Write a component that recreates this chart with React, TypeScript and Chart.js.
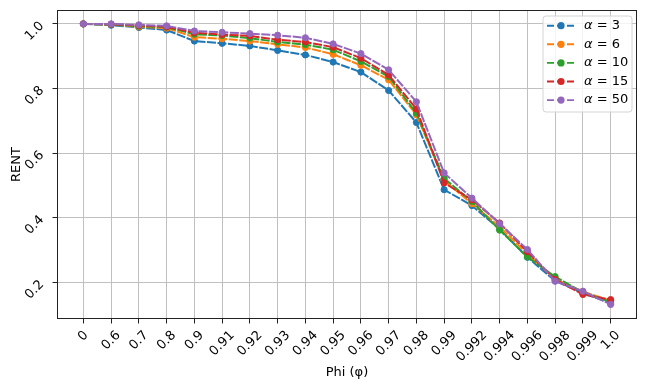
import React, { useEffect, useRef } from 'react';
import { Chart, registerables } from 'chart.js';

Chart.register(...registerables);

const phiLabels = ['0', '0.6', '0.7', '0.8', '0.9', '0.91', '0.92', '0.93', '0.94', '0.95', '0.96', '0.97', '0.98', '0.99', '0.992', '0.994', '0.996', '0.998', '0.999', '1.0'];
const alphaNames = ['3', '6', '10', '15', '50'];
const seriesColors = ['#1f77b4', '#ff7f0e', '#2ca02c', '#d62728', '#9467bd'];

const rentAlpha3 = [1.0, 0.996, 0.989, 0.981, 0.947, 0.940, 0.932, 0.918, 0.904, 0.882, 0.851, 0.794, 0.695, 0.487, 0.438, 0.365, 0.278, 0.205, 0.167, 0.136];
const rentAlpha6 = [1.0, 0.998, 0.991, 0.987, 0.959, 0.954, 0.947, 0.937, 0.927, 0.906, 0.872, 0.827, 0.719, 0.516, 0.444, 0.372, 0.288, 0.210, 0.172, 0.144];
const rentAlpha10 = [1.0, 0.998, 0.993, 0.990, 0.968, 0.964, 0.956, 0.944, 0.936, 0.920, 0.884, 0.837, 0.724, 0.522, 0.451, 0.362, 0.279, 0.218, 0.169, 0.140];
const rentAlpha15 = [1.0, 0.999, 0.995, 0.991, 0.973, 0.967, 0.963, 0.951, 0.944, 0.928, 0.894, 0.842, 0.737, 0.508, 0.456, 0.384, 0.295, 0.209, 0.163, 0.147];
const rentAlpha50 = [1.0, 1.0, 0.997, 0.994, 0.978, 0.974, 0.970, 0.965, 0.957, 0.938, 0.908, 0.858, 0.759, 0.539, 0.461, 0.382, 0.302, 0.204, 0.173, 0.132];

const allSeries = [rentAlpha3, rentAlpha6, rentAlpha10, rentAlpha15, rentAlpha50];
const yTicks = [0.2, 0.4, 0.6, 0.8, 1.0];

const xTitle = 'Phi (φ)';
const yTitle = 'RENT';
const FONT = "'DejaVu Sans', sans-serif";
const FS = 13;

const overlayPlugin = {
  id: 'mplOverlay',
  afterDraw(chart: any) {
    const ctx = chart.ctx;
    const area = chart.chartArea;
    const xs = chart.scales.x;
    const ys = chart.scales.y;
    ctx.save();
    // spines
    ctx.strokeStyle = '#222';
    ctx.lineWidth = 1;
    ctx.strokeRect(Math.round(area.left) + 0.5, Math.round(area.top) + 0.5, Math.round(area.right - area.left) - 1, Math.round(area.bottom - area.top) - 1);

    ctx.fillStyle = '#000';
    ctx.font = `${FS}px ${FONT}`;

    // x tick labels, rotated 45 deg CCW, rotated box centred on tick
    const h = FS * 1.164;
    const top = area.bottom + 9;
    phiLabels.forEach((lab, i) => {
      const px = xs.getPixelForValue(i);
      const w = ctx.measureText(lab).width;
      const H = (w + h) * Math.SQRT1_2;
      ctx.save();
      ctx.translate(px, top + H / 2);
      ctx.rotate(-Math.PI / 4);
      ctx.textAlign = 'center';
      ctx.textBaseline = 'middle';
      ctx.fillText(lab, 0, 0);
      ctx.restore();
    });

    // y tick labels, rotated 45 deg CCW, right end at tick
    yTicks.forEach((v) => {
      const py = ys.getPixelForValue(v);
      ctx.save();
      ctx.translate(area.left - 15, py);
      ctx.rotate(-Math.PI / 4);
      ctx.textAlign = 'right';
      ctx.textBaseline = 'middle';
      ctx.fillText(v.toFixed(1), 0, 0);
      ctx.restore();
    });

    // axis titles
    ctx.textAlign = 'center';
    ctx.textBaseline = 'alphabetic';
    ctx.fillText(xTitle, (area.left + area.right) / 2, 376);
    ctx.save();
    ctx.translate(19.5, (area.top + area.bottom) / 2);
    ctx.rotate(-Math.PI / 2);
    ctx.fillText(yTitle, 0, 0);
    ctx.restore();

    // legend
    const lx = 543, ly = 16, lw = 89, lh = 96, r = 3;
    ctx.beginPath();
    ctx.moveTo(lx + r, ly);
    ctx.lineTo(lx + lw - r, ly);
    ctx.quadraticCurveTo(lx + lw, ly, lx + lw, ly + r);
    ctx.lineTo(lx + lw, ly + lh - r);
    ctx.quadraticCurveTo(lx + lw, ly + lh, lx + lw - r, ly + lh);
    ctx.lineTo(lx + r, ly + lh);
    ctx.quadraticCurveTo(lx, ly + lh, lx, ly + lh - r);
    ctx.lineTo(lx, ly + r);
    ctx.quadraticCurveTo(lx, ly, lx + r, ly);
    ctx.closePath();
    ctx.fillStyle = 'rgba(255,255,255,0.8)';
    ctx.fill();
    ctx.strokeStyle = '#d4d4d4';
    ctx.lineWidth = 1;
    ctx.stroke();

    alphaNames.forEach((name, i) => {
      const cy = 25.7 + i * 18.6;
      const col = seriesColors[i];
      ctx.strokeStyle = col;
      ctx.lineWidth = 1.9;
      ctx.setLineDash([7, 3]);
      ctx.beginPath();
      ctx.moveTo(547, cy);
      ctx.lineTo(575, cy);
      ctx.stroke();
      ctx.setLineDash([]);
      ctx.fillStyle = col;
      ctx.beginPath();
      ctx.arc(561, cy, 3.6, 0, Math.PI * 2);
      ctx.fill();
      ctx.fillStyle = '#000';
      ctx.textAlign = 'left';
      ctx.textBaseline = 'middle';
      ctx.font = `italic ${FS}px ${FONT}`;
      ctx.fillText('α', 584, cy);
      const aw = ctx.measureText('α').width;
      ctx.font = `${FS}px ${FONT}`;
      ctx.fillText(' = ' + name, 584 + aw, cy);
    });
    ctx.restore();
  },
};

export default function App() {
  const canvasRef = useRef<HTMLCanvasElement | null>(null);

  useEffect(() => {
    const canvas = canvasRef.current;
    if (!canvas) return;
    const datasets = allSeries.map((vals, i) => ({
      label: `α = ${alphaNames[i]}`,
      data: vals.map((v, k) => ({ x: k, y: v })),
      borderColor: seriesColors[i],
      backgroundColor: seriesColors[i],
      pointBackgroundColor: seriesColors[i],
      pointBorderColor: seriesColors[i],
      borderWidth: 2,
      borderDash: [9, 1.5],
      pointRadius: 3.1,
      pointBorderWidth: 1,
      tension: 0,
      fill: false,
      order: allSeries.length - 1 - i,
    }));

    const chart = new Chart(canvas, {
      type: 'line',
      data: { datasets },
      options: {
        responsive: false,
        animation: false,
        devicePixelRatio: 1,
        layout: { padding: { top: 10, right: 11, left: 0, bottom: 0 } },
        plugins: { legend: { display: false }, tooltip: { enabled: false } },
        scales: {
          x: {
            type: 'linear',
            min: -0.95,
            max: 19.95,
            afterBuildTicks: (s: any) => {
              s.ticks = phiLabels.map((_, i) => ({ value: i }));
            },
            ticks: { display: false },
            grid: { color: '#c0c0c0', lineWidth: 1, tickColor: '#222', tickLength: 4.5, drawTicks: true },
            border: { display: false },
            afterFit: (s: any) => {
              s.height = 70;
            },
          },
          y: {
            type: 'linear',
            min: 0.087,
            max: 1.043,
            afterBuildTicks: (s: any) => {
              s.ticks = yTicks.map((v) => ({ value: v }));
            },
            ticks: { display: false },
            grid: { color: '#c0c0c0', lineWidth: 1, tickColor: '#222', tickLength: 4.5, drawTicks: true },
            border: { display: false },
            afterFit: (s: any) => {
              s.width = 57;
            },
          },
        },
      },
      plugins: [overlayPlugin],
    });
    return () => chart.destroy();
  }, []);

  return (
    <div style={{ position: 'fixed', left: 0, top: 0, width: 648, height: 389, background: '#fff' }}>
      <canvas ref={canvasRef} width={648} height={389} style={{ display: 'block' }} />
    </div>
  );
}
